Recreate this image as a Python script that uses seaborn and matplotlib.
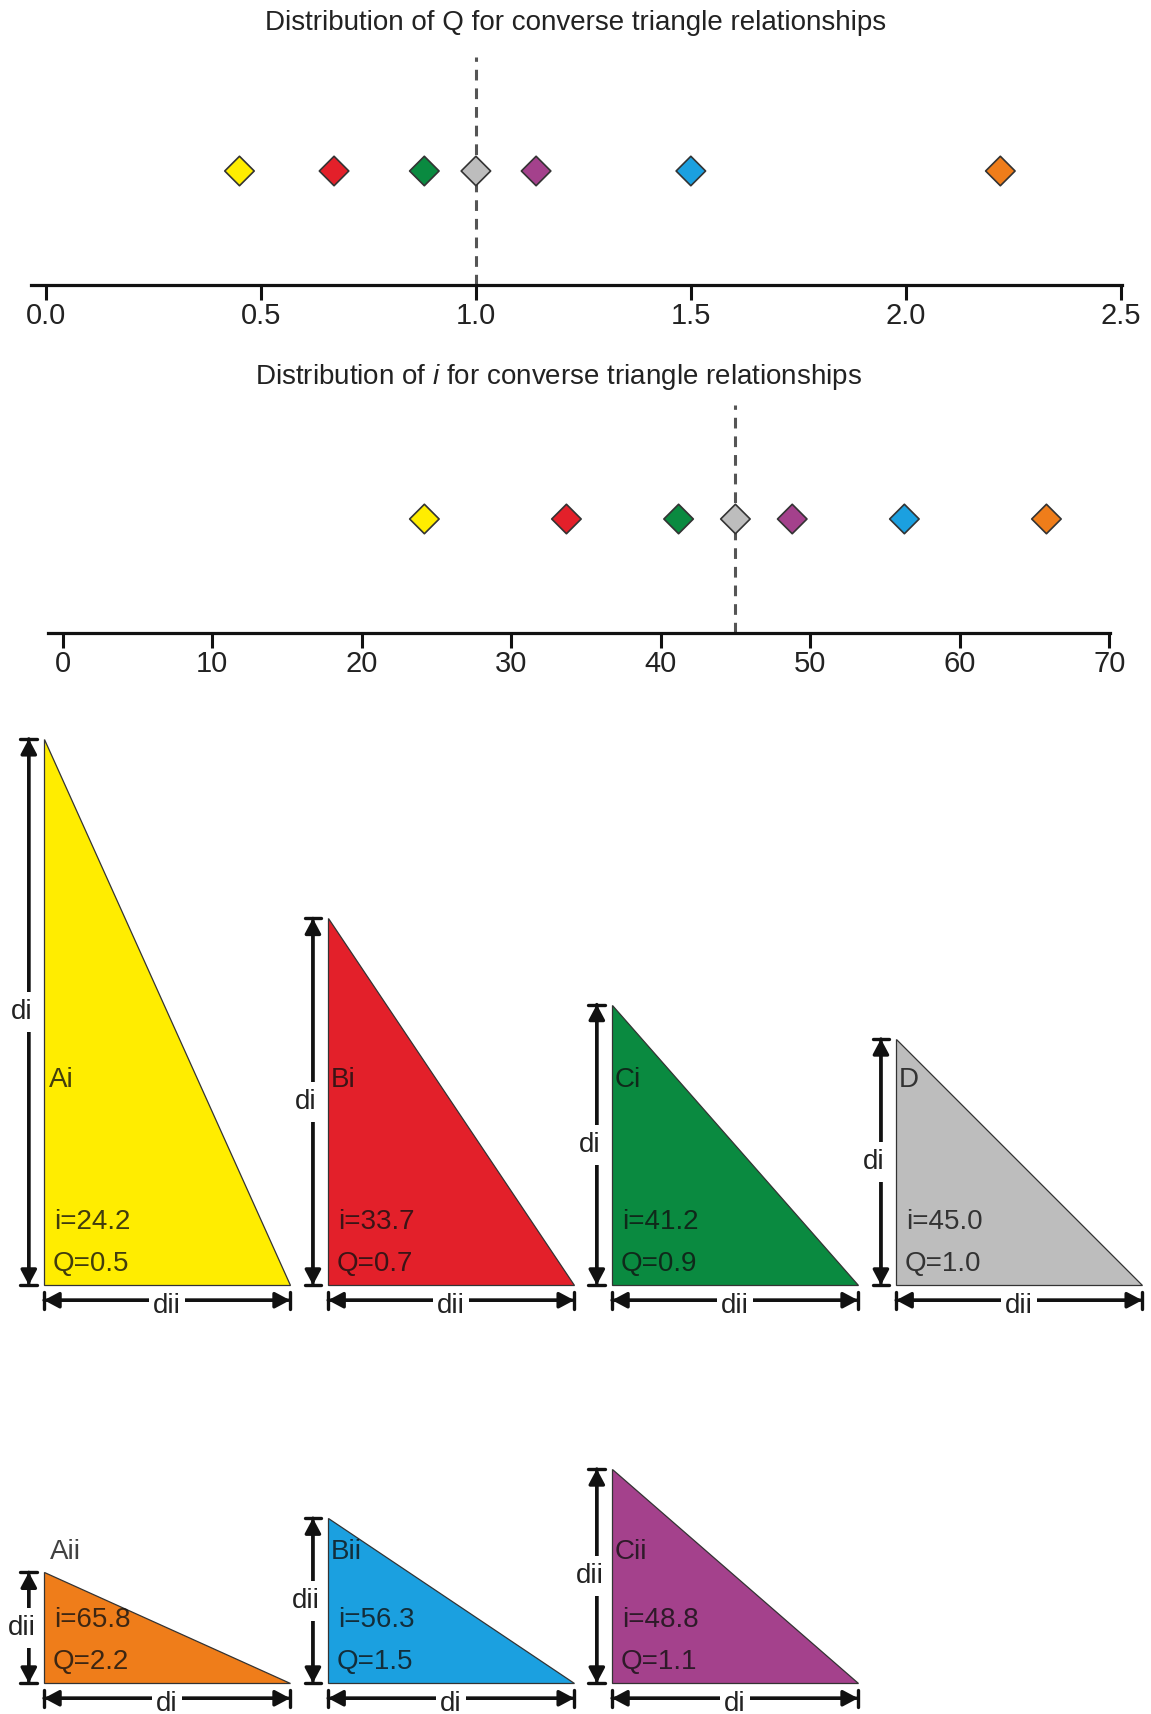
import numpy as np
import pandas as pd
import matplotlib.pyplot as plt
import seaborn as sns

# Values
labels = ['Ai', 'Bi', 'Ci', 'D', 'Cii', 'Bii', 'Aii']
q_values = [0.45, 0.67, 0.88, 1.00, 1.14, 1.50, 2.22]
i_values = [24.2, 33.7, 41.2, 45.0, 48.8, 56.3, 65.8]
colors = ['#FFED00', '#E3202A', '#0A8A40', '#BDBDBD', '#A4418C', '#1BA0E0', '#EF7D1A']

q_ticks = [0.0, 0.5, 1.0, 1.5, 2.0, 2.5]
i_ticks = [0, 10, 20, 30, 40, 50, 60, 70]

# Triangles: vertical leg / horizontal leg, and the annotations
row1_names = ['Ai', 'Bi', 'Ci', 'D']
row1_ratio = [2.22, 1.49, 1.14, 1.00]
row1_i = ['24.2', '33.7', '41.2', '45.0']
row1_q = ['0.5', '0.7', '0.9', '1.0']

row2_names = ['Aii', 'Bii', 'Cii']
row2_ratio = [0.45, 0.67, 0.87]
row2_i = ['65.8', '56.3', '48.8']
row2_q = ['2.2', '1.5', '1.1']

df = pd.DataFrame({'name': labels, 'Q': q_values, 'i': i_values})
color_of = dict(zip(labels, colors))

sns.set_style('white')
plt.rcParams['font.family'] = ['Liberation Sans', 'DejaVu Sans']
plt.rcParams['mathtext.fontset'] = 'custom'
plt.rcParams['mathtext.rm'] = 'Liberation Sans'
plt.rcParams['mathtext.it'] = 'Liberation Sans:italic'

W, H = 1151, 1714
fig = plt.figure(figsize=(W / 100, H / 100), dpi=100)


def px_axes(left, top, width, height):
    return fig.add_axes([left / W, 1 - (top + height) / H, width / W, height / H])


def strip_axis(ax, col, ref, ticks, xlim, fmt):
    sns.stripplot(data=df, x=col, hue='name', palette=colors, marker='D', size=15,
                  jitter=False, linewidth=1.2, edgecolor='#333333', legend=False, ax=ax)
    ax.axvline(ref, color='#555555', lw=2.2, linestyle=(0, (3.5, 2.6)), zorder=0)
    ax.set_ylim(-1, 1)
    ax.set_xlim(*xlim)
    ax.set_xticks(ticks)
    ax.set_xticklabels([fmt.format(t) for t in ticks])
    ax.set_yticks([])
    ax.set_xlabel('')
    ax.set_ylabel('')
    sns.despine(ax=ax, left=True)
    ax.spines['bottom'].set_linewidth(2.3)
    ax.spines['bottom'].set_color('#111111')
    ax.tick_params(axis='x', bottom=True, direction='out', length=11, width=2.2,
                   color='#111111', labelsize=21, pad=1, labelcolor='#222222')
    ax.patch.set_visible(False)


# Distribution of Q
ax1 = px_axes(31, 57, 1091, 228)
strip_axis(ax1, 'Q', 1.0, q_ticks, (-0.035, 2.503), '{:.1f}')
fig.text(576 / W, 1 - 23 / H, 'Distribution of Q for converse triangle relationships',
         ha='center', va='center', fontsize=20, color='#222222')

# Distribution of i
ax2 = px_axes(48, 405, 1062, 228)
strip_axis(ax2, 'i', 45.0, i_ticks, (-0.97, 70.05), '{:d}')
fig.text(559 / W, 1 - 377 / H, 'Distribution of $\\mathit{i}$ for converse triangle relationships',
         ha='center', va='center', fontsize=20, color='#222222')

# Triangle sketches (one unit = horizontal leg length)
unit = 246
top_px = 700
ax3 = fig.add_axes([0, 0, 1, (H - top_px) / H])
ax3.set_xlim(0, W / unit)
ax3.set_ylim(0, (H - top_px) / unit)
ax3.axis('off')
ax3.patch.set_visible(False)

col_x = [0.179, 1.334, 2.488, 3.643]
base1, base2 = 1.744, 0.126
txt_kw = dict(fontsize=20, color='#111111', alpha=0.8)
gap_box = dict(facecolor='white', edgecolor='none', pad=5)


def dim_line(p0, p1):
    ax3.annotate('', xy=p1, xytext=p0,
                 arrowprops=dict(arrowstyle='<|-|>,head_length=0.45,head_width=0.24',
                                 color='#111111', lw=2.4, shrinkA=0, shrinkB=0, mutation_scale=20))
    ax3.annotate('', xy=p1, xytext=p0,
                 arrowprops=dict(arrowstyle='|-|,widthA=0.3,widthB=0.3',
                                 color='#111111', lw=2.4, shrinkA=0, shrinkB=0, mutation_scale=20))


def draw_triangle(x0, y0, ratio, name, i_txt, q_txt, v_lab, h_lab, name_y, inner_dx):
    ax3.fill([x0, x0, x0 + 1], [y0 + ratio, y0, y0], facecolor=color_of[name],
             edgecolor='#333333', lw=0.9)
    ax3.text(x0 + inner_dx, name_y, name, ha='left', va='center', **txt_kw)
    ax3.text(x0 + 0.04, y0 + 0.255, 'i=' + i_txt, ha='left', va='center', **txt_kw)
    ax3.text(x0 + 0.035, y0 + 0.085, 'Q=' + q_txt, ha='left', va='center', **txt_kw)

    # vertical dimension
    vx = x0 - 0.062
    dim_line((vx, y0), (vx, y0 + ratio))
    ax3.text(vx - 0.028, y0 + ratio / 2, v_lab, ha='center', va='center', fontsize=20,
             color='#222222', bbox=gap_box)
    # horizontal dimension
    hy = y0 - 0.062
    dim_line((x0, hy), (x0 + 1, hy))
    ax3.text(x0 + 0.5, hy - 0.053, h_lab, ha='center', va='baseline', fontsize=20,
             color='#222222', bbox=dict(facecolor='white', edgecolor='none', pad=3))


for k, name in enumerate(row1_names):
    draw_triangle(col_x[k], base1, row1_ratio[k], name, row1_i[k], row1_q[k],
                  'di', 'dii', 2.577, 0.01 if k else 0.02)

for k, name in enumerate(row2_names):
    draw_triangle(col_x[k], base2, row2_ratio[k], name, row2_i[k], row2_q[k],
                  'dii', 'di', 0.659, 0.025 if k == 0 else 0.01)

fig.savefig('out.png', dpi=100)
